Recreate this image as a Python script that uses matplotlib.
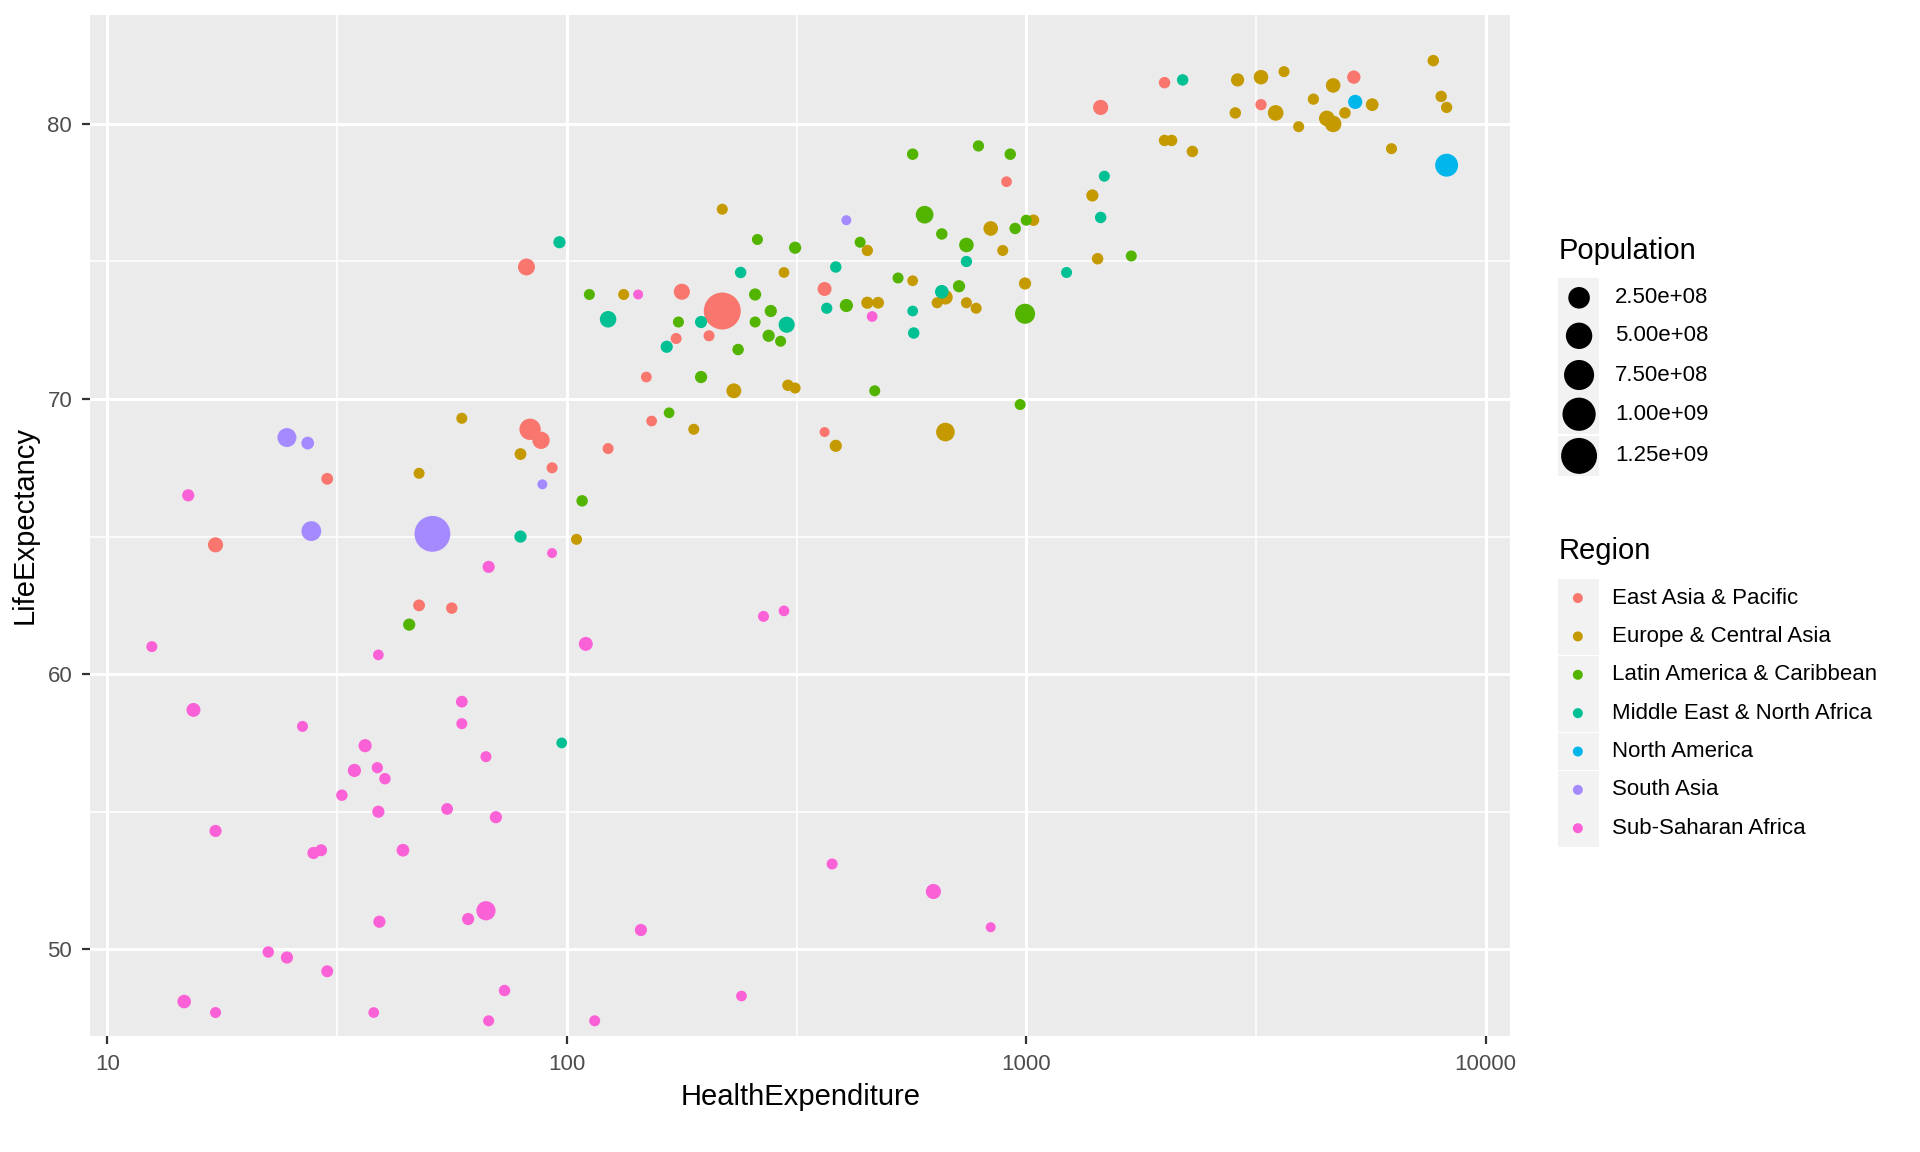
import numpy as np
import matplotlib
matplotlib.use("Agg")
import matplotlib.pyplot as plt
from matplotlib.ticker import FixedLocator, NullFormatter

plt.rcParams['font.family'] = ['Liberation Sans', 'DejaVu Sans']

regions = ["East Asia & Pacific", "Europe & Central Asia", "Latin America & Caribbean",
           "Middle East & North Africa", "North America", "South Asia", "Sub-Saharan Africa"]
colors = ["#F8766D", "#C49A00", "#53B400", "#00C094", "#00B6EB", "#A58AFF", "#FB61D7"]

# (HealthExpenditure, LifeExpectancy, Population)
east_asia = [(81.7,74.8,9e7),(17.2,64.7,5e7),(30.1,67.1,7e6),(47.7,62.5,7e6),(56.2,62.4,5e6),
    (83.2,68.9,2.4e8),(87.9,68.5,1e8),(92.9,67.5,3e6),(123,68.2,3e6),(149,70.8,2e6),(153,69.2,2e6),
    (173,72.2,3e6),(178,73.9,7e7),(204,72.3,3e6),(218,73.2,1.35e9),(364,74.0,3e7),(364,68.8,1e6),
    (906,77.9,2e6),(1452,80.6,5e7),(2000,81.5,5e6),(3243,80.7,4e6),(5164,81.7,2.2e7)]
europe = [(218,76.9,3e6),(133,73.8,3e6),(59.1,69.3,3e6),(47.7,67.3,3e6),(79.3,68.0,7e6),(105,64.9,3e6),
    (189,68.9,3e6),(231,70.3,4.5e7),(297,74.6,2e6),(303,70.5,5e6),(314,70.4,3e6),(385,68.3,1e7),
    (451,75.4,4e6),(451,73.5,1e7),(476,73.5,7e6),(566,74.3,2e6),(667,68.8,1.4e8),(667,73.7,4e7),
    (640,73.5,3e6),(741,73.5,3e6),(778,73.3,3e6),(837,76.2,4e7),(889,75.4,3e6),(994,74.2,1e7),
    (1037,76.5,5e6),(1393,77.4,1e7),(1430,75.1,5e6),(2000,79.4,5e6),(2072,79.4,5e6),(2300,79.0,5e6),
    (2851,80.4,5e6),(2884,81.6,2e7),(3243,81.7,4e7),(3490,80.4,6e7),(3640,81.9,3e6),(3917,79.9,3e6),
    (4217,80.9,4e6),(4510,80.2,6e7),(4656,80.0,8e7),(4656,81.4,4e7),(4940,80.4,5e6),(5662,80.7,1.5e7),
    (6237,79.1,3e6),(7690,82.3,5e6),(8000,81.0,5e6),(8222,80.6,4e6)]
latam = [(45.4,61.8,1e7),(108,66.3,5e6),(112,73.8,3e6),(175,72.8,3e6),(167,69.5,2e6),(196,70.8,1e7),
    (236,71.8,5e6),(257,73.8,1e7),(257,72.8,3e6),(260,75.8,3e6),(275,72.3,1e7),(278,73.2,1e7),
    (292,72.1,3e6),(314,75.5,1e7),(406,73.4,2e7),(435,75.7,3e6),(468,70.3,3e6),(526,74.4,3e6),
    (566,78.9,5e6),(601,76.7,1.1e8),(655,76.0,5e6),(714,74.1,1e7),(741,75.6,4e7),(787,79.2,4e6),
    (923,78.9,5e6),(946,76.2,5e6),(994,73.1,1.9e8),(970,69.8,3e6),(1000,76.5,3e6),(1693,75.2,3e6)]
mena = [(79.3,65.0,1e7),(96.4,75.7,1e7),(97.5,57.5,2e6),(123,72.9,8e7),(165,71.9,1e7),(196,72.8,1e7),
    (239,74.6,5e6),(301,72.7,7e7),(368,73.3,4e6),(385,74.8,5e6),(566,73.2,2e6),(569,72.4,5e6),
    (655,73.9,2.5e7),(741,75.0,4e6),(1224,74.6,3e6),(1452,76.6,5e6),(1479,78.1,3e6),(2190,81.6,5e6)]
north_america = [(5200,80.8,3.4e7),(8222,78.5,3.1e8)]
south_asia = [(24.6,68.6,1.5e8),(27.3,68.4,1.5e7),(27.8,65.2,1.8e8),(51,65.1,1.24e9),(88.5,66.9,1e6),(406,76.5,1e6)]
ssa = [(12.5,61.0,3e6),(15.0,66.5,1e7),(15.4,58.7,3e7),(17.2,54.3,1e7),(14.7,48.1,2.5e7),(17.2,47.7,3e6),
    (22.4,49.9,5e6),(24.6,49.7,1e7),(30.1,49.2,8e6),(26.6,58.1,3e6),(28.1,53.5,1e7),(29.2,53.6,8e6),
    (32.4,55.6,5e6),(34.5,56.5,2e7),(36.4,57.4,2e7),(38.7,56.6,4e6),(38.9,60.7,2e6),(38.9,55.0,1e7),
    (39.1,51.0,1e7),(38.0,47.7,2e6),(40.2,56.2,5e6),(44.0,53.6,1.5e7),(54.9,55.1,7e6),(59.1,59.0,7e6),
    (59.1,58.2,3e6),(61.0,51.1,1e7),(66.7,57.0,3e6),(67.6,63.9,1e7),(66.7,51.4,1.6e8),(70.1,54.8,1e7),
    (73.2,48.5,5e6),(67.6,47.4,3e6),(92.9,64.4,1e6),(110,61.1,3e7),(115,47.4,3e6),(143,73.8,1e6),
    (145,50.7,1e7),(240,48.3,2e6),(268,62.1,3e6),(297,62.3,2e6),(378,53.1,3e6),(462,73.0,2e6),
    (628,52.1,5e7),(837,50.8,1e6)]
data = [east_asia, europe, latam, mena, north_america, south_asia, ssa]

size_breaks = [2.5e8, 5e8, 7.5e8, 1e9, 1.25e9]
size_labels = ["2.50e+08", "5.00e+08", "7.50e+08", "1.00e+09", "1.25e+09"]

allpop = np.array([p for d in data for (_, _, p) in d])
pmin, pmax = allpop.min(), allpop.max()
def msize(p):
    rel = np.clip((np.asarray(p) - pmin) / (pmax - pmin), 0, 1)
    d = 3.6 + 9.7 * np.sqrt(rel)
    return d ** 2

fig = plt.figure(figsize=(9.6, 5.76), dpi=200)
ax = fig.add_axes([0.047, 0.101, 0.7395, 0.886])
ax.set_facecolor("#EBEBEB")
for c, d in zip(colors, data):
    arr = np.array(d)
    ax.scatter(arr[:, 0], arr[:, 1], s=msize(arr[:, 2]), color=c, edgecolors='none', zorder=3)
ax.set_xscale('log')
ax.set_xlim(9.18, 11300)
ax.set_ylim(46.86, 83.96)
ax.xaxis.set_major_locator(FixedLocator([10, 100, 1000, 10000]))
ax.set_xticklabels(["10", "100", "1000", "10000"])
ax.xaxis.set_minor_locator(FixedLocator([10**1.5, 10**2.5, 10**3.5]))
ax.xaxis.set_minor_formatter(NullFormatter())
ax.set_yticks([50, 60, 70, 80])
ax.set_yticks([55, 65, 75], minor=True)
ax.grid(which='major', color='white', lw=1.1, zorder=0)
ax.grid(which='minor', color='white', lw=0.55, zorder=0)
ax.set_axisbelow(True)
for s in ax.spines.values():
    s.set_visible(False)
ax.tick_params(which='major', length=3, color='#333333', labelcolor='#4D4D4D', labelsize=8)
ax.tick_params(which='minor', length=0)
ax.set_xlabel("HealthExpenditure", fontsize=10.5, labelpad=3)
ax.set_ylabel("LifeExpectancy", fontsize=10.5, labelpad=3)

# legends
lg = fig.add_axes([0, 0, 1, 1], facecolor='none')
lg.set_xlim(0, 1560); lg.set_ylim(940, 0); lg.axis('off')
x0 = 1266
lg.text(x0, 205, "Population", fontsize=10.5, va='center', ha='left')
for b, lab, y in zip(size_breaks, size_labels, [243, 274, 306, 338, 372]):
    lg.add_patch(plt.Rectangle((x0, y - 16), 33, 32, color='#F2F2F2', lw=0, zorder=1))
    lg.scatter([x0 + 17], [y], s=msize(b), color='black', edgecolors='none', zorder=2)
    lg.text(x0 + 46, y, lab, fontsize=8, va='center', ha='left')
lg.text(x0, 450, "Region", fontsize=10.5, va='center', ha='left')
for i, (c, r) in enumerate(zip(colors, regions)):
    y = 488 + i * 31.3
    lg.add_patch(plt.Rectangle((x0, y - 15.5), 33, 31, color='#F2F2F2', lw=0, zorder=1))
    lg.scatter([x0 + 16], [y], s=msize(pmin), color=c, edgecolors='none', zorder=2)
    lg.text(x0 + 44, y, r, fontsize=8, va='center', ha='left')

fig.savefig("out.png", dpi=200)
